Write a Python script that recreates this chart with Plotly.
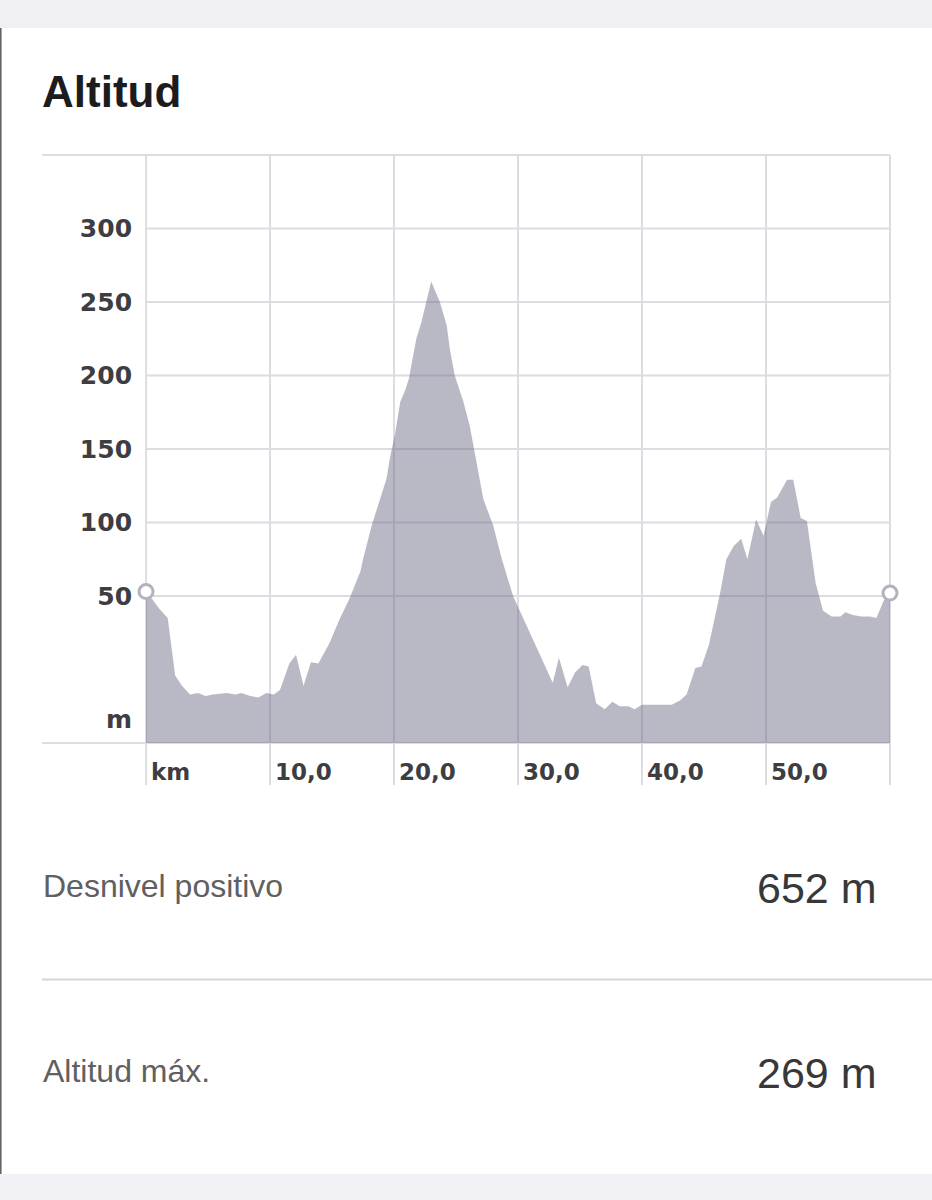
import plotly.graph_objects as go

# ---------------- data ----------------
km = [0.0, 0.4, 1.1, 1.75, 2.35, 2.9, 3.55, 4.2, 4.8, 5.4, 6.5, 7.2, 7.7, 8.4, 9.06, 9.7,
      10.3, 10.8, 11.56, 12.1, 12.7, 13.3, 13.9, 14.8, 15.6, 16.45, 17.3, 17.5, 18.2, 18.9,
      19.4, 19.65, 20.1, 20.5, 20.9, 21.2, 21.5, 21.8, 22.2, 22.6, 23.0, 23.7, 24.25, 24.5,
      24.9, 25.6, 26.1, 26.7, 27.2, 28.0, 28.7, 29.6, 30.7, 31.5, 32.8, 33.3, 34.0, 34.6,
      35.2, 35.7, 36.3, 37.0, 37.6, 38.2, 38.9, 39.4, 40.0, 41.7, 42.4, 43.1, 43.6, 44.3,
      44.8, 45.4, 46.3, 46.8, 47.4, 48.0, 48.5, 49.2, 49.8, 50.4, 50.9, 51.7, 52.2, 52.8,
      53.3, 54.0, 54.6, 55.3, 56.0, 56.4, 57.0, 57.7, 58.4, 58.9, 59.5, 60.0]
alt = [53, 49, 41, 35, -4, -11, -17, -16, -18, -17, -16, -17, -16, -18, -19, -16,
       -17, -14, 4, 10, -11, 5, 4, 18, 34, 49, 67, 75, 98, 116,
       130, 143, 161, 182, 190, 198, 211, 225, 236, 250, 264, 250, 234, 218,
       200, 182, 166, 139, 116, 98, 75, 50, 30, 15, -9, 8, -12, -2,
       3, 2, -23, -27, -22, -25, -25, -27, -24, -24, -24, -21, -17, 1,
       2, 17, 52, 75, 84, 89, 75, 102, 91, 114, 117, 129, 129, 103,
       101, 59, 40, 36, 36, 39, 37, 36, 36, 35, 47, 52]

y_tick_vals = [-34, 50, 100, 150, 200, 250, 300]
y_tick_text = ["m", "50", "100", "150", "200", "250", "300"]
x_tick_vals = [0, 10, 20, 30, 40, 50]
x_tick_text = ["km", "10,0", "20,0", "30,0", "40,0", "50,0"]
x_grid_vals = [0, 10, 20, 30, 40, 50, 60]
y_grid_vals = [50, 100, 150, 200, 250, 300]

title_text = "Altitud"
stat_labels = ["Desnivel positivo", "Altitud máx."]
stat_values = ["652 m", "269 m"]

# ---------------- layout geometry ----------------
W, H = 932, 1200
ML, MR, MT, MB = 42, 42, 155, 457
PW, PH = W - ML - MR, H - MT - MB
X_RANGE = [-8.39, 60]
Y_RANGE = [-50, 350]


def px_x(p):
    return (p - ML) / PW


def px_y(p):
    return (H - MB - p) / PH


def km_paper(k):
    return (k - X_RANGE[0]) / (X_RANGE[1] - X_RANGE[0])


GRID = "#dcdce2"
FILL = "rgba(99,99,128,0.45)"
TICK_COLOR = "#3d3d42"

fig = go.Figure()

# invisible baseline for the area fill
fig.add_trace(go.Scatter(x=[km[0], km[-1]], y=[Y_RANGE[0], Y_RANGE[0]], mode="lines",
                         line=dict(width=0, color="rgba(0,0,0,0)"), hoverinfo="skip",
                         showlegend=False))
fig.add_trace(go.Scatter(x=km, y=alt, mode="lines", fill="tonexty", fillcolor=FILL,
                         line=dict(width=0, color=FILL), showlegend=False))
fig.add_trace(go.Scatter(x=[km[0], km[-1]], y=[alt[0], alt[-1]], mode="markers",
                         marker=dict(symbol="circle", size=14, color="white",
                                     line=dict(color="#b3b3bf", width=3)),
                         cliponaxis=False, showlegend=False))

shapes = []
# top / bottom grey bands and left border
shapes.append(dict(type="rect", xref="paper", yref="paper", x0=px_x(0), x1=px_x(W),
                   y0=px_y(28), y1=px_y(0), fillcolor="#f0f0f4", line=dict(width=0), layer="below"))
shapes.append(dict(type="rect", xref="paper", yref="paper", x0=px_x(0), x1=px_x(W),
                   y0=px_y(H), y1=px_y(1174), fillcolor="#f2f2f6", line=dict(width=0), layer="below"))
shapes.append(dict(type="line", xref="paper", yref="paper", x0=px_x(0.8), x1=px_x(0.8),
                   y0=px_y(1174), y1=px_y(28), line=dict(color="#5c5c5c", width=1.5)))
# vertical grid lines (extend into the tick-label row)
for k in x_grid_vals:
    shapes.append(dict(type="line", xref="paper", yref="paper", x0=km_paper(k), x1=km_paper(k),
                       y0=px_y(785), y1=1, line=dict(color=GRID, width=2), layer="below"))
# horizontal grid lines
for v in y_grid_vals:
    shapes.append(dict(type="line", xref="x", yref="y", x0=x_grid_vals[0], x1=x_grid_vals[-1],
                       y0=v, y1=v, line=dict(color=GRID, width=2), layer="below"))
# top border and baseline
for yy in (0, 1):
    shapes.append(dict(type="line", xref="paper", yref="paper", x0=0, x1=km_paper(x_grid_vals[-1]),
                       y0=yy, y1=yy, line=dict(color=GRID, width=2), layer="below"))
# separator between stats
shapes.append(dict(type="line", xref="paper", yref="paper", x0=px_x(42), x1=px_x(W),
                   y0=px_y(979.5), y1=px_y(979.5), line=dict(color="#d6d6da", width=2)))

annotations = [
    dict(text="<b>" + title_text + "</b>", xref="paper", yref="paper", x=px_x(40), y=px_y(92),
         xanchor="left", yanchor="middle", showarrow=False,
         font=dict(family="Liberation Sans", size=44, color="#1c1c1e")),
]
label_y = [886, 1071]
value_y = [888, 1073]
for lab, val, ly, vy in zip(stat_labels, stat_values, label_y, value_y):
    annotations.append(dict(text=lab, xref="paper", yref="paper", x=px_x(41), y=px_y(ly),
                            xanchor="left", yanchor="middle", showarrow=False,
                            font=dict(family="Liberation Sans", size=32, color="#606060")))
    annotations.append(dict(text=val, xref="paper", yref="paper", x=px_x(879), y=px_y(vy),
                            xanchor="right", yanchor="middle", showarrow=False,
                            font=dict(family="Liberation Sans", size=43, color="#383838")))

fig.update_layout(
    width=W, height=H,
    margin=dict(l=ML, r=MR, t=MT, b=MB, pad=0),
    paper_bgcolor="white", plot_bgcolor="rgba(0,0,0,0)",
    shapes=shapes, annotations=annotations,
    showlegend=False,
    xaxis=dict(range=X_RANGE, showgrid=False, zeroline=False, showline=False,
               tickvals=x_tick_vals, ticktext=x_tick_text, ticks="",
               ticklabelposition="outside right", ticklabelshift=5, ticklabelstandoff=13,
               tickfont=dict(family="DejaVu Sans", size=23, color=TICK_COLOR, weight="bold"),
               fixedrange=True),
    yaxis=dict(range=Y_RANGE, anchor="free", position=km_paper(0), showgrid=False,
               zeroline=False, showline=False, tickvals=y_tick_vals, ticktext=y_tick_text,
               ticks="", ticklabelstandoff=14,
               tickfont=dict(family="DejaVu Sans", size=25, color=TICK_COLOR, weight="bold"),
               fixedrange=True),
)

fig.write_html("out.html", config={"displayModeBar": False})
